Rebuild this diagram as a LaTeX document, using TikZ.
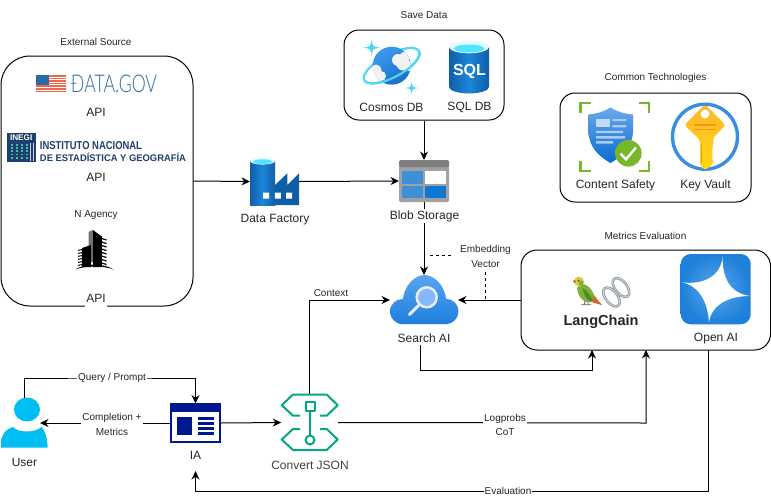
\documentclass[tikz,border=0pt]{standalone}
\usepackage{fontspec}
\setmainfont{Liberation Sans}
\newfontfamily\lightfont{Lato Light}
\usetikzlibrary{arrows.meta}
\definecolor{cyanT}{HTML}{50E6FF}
\definecolor{ringC}{HTML}{4FD6F4}
\definecolor{azA}{HTML}{0F5EA8}
\definecolor{azB}{HTML}{1B86D9}
\definecolor{navyIA}{HTML}{00188F}
\definecolor{greenS}{HTML}{76B82A}
\definecolor{hpe}{HTML}{01A982}
\definecolor{inegi}{HTML}{1F3F6E}
\definecolor{teal2}{HTML}{3FC0A8}
\definecolor{flagR}{HTML}{F0674F}
\definecolor{flagB}{HTML}{2A6AA5}
\definecolor{govT}{HTML}{2E6CA0}
\definecolor{sphA}{HTML}{3A9BEE}
\definecolor{sphB}{HTML}{1B6ECC}
\definecolor{shA}{HTML}{6AA8F0}
\definecolor{shB}{HTML}{0A6BCE}
\definecolor{shL}{HTML}{C3DBF7}
\definecolor{shM}{HTML}{A9CCF5}
\definecolor{ringK}{HTML}{3A8EDD}
\definecolor{keyA}{HTML}{FFB52B}
\definecolor{keyB}{HTML}{FFDB0F}
\definecolor{keyL}{HTML}{F7941D}
\definecolor{blobA}{HTML}{3D8FD8}
\definecolor{blobB}{HTML}{0F78D0}
\definecolor{blobG}{HTML}{A0A1A2}
\definecolor{blobH}{HTML}{7F7F7F}
\definecolor{clA}{HTML}{5BA3EE}
\definecolor{clB}{HTML}{1C80DE}
\definecolor{clR}{HTML}{E8EEF7}
\definecolor{clI}{HTML}{86B8FF}
\definecolor{oaA}{HTML}{5AA9EE}
\definecolor{oaB}{HTML}{1E80DA}
\definecolor{userC}{HTML}{00BEF2}
\definecolor{parG}{HTML}{7FB03A}
\definecolor{parD}{HTML}{4F8A2A}
\definecolor{parY}{HTML}{D8D040}
\definecolor{parR}{HTML}{E0602A}
\definecolor{chainC}{HTML}{8E98A6}
\newcommand{\fourstar}[3]{
  (#1,{#2-#3}) .. controls ({#1+0.12*#3},{#2-0.12*#3}) .. ({#1+#3},#2)
  .. controls ({#1+0.12*#3},{#2+0.12*#3}) .. (#1,{#2+#3})
  .. controls ({#1-0.12*#3},{#2+0.12*#3}) .. ({#1-#3},#2)
  .. controls ({#1-0.12*#3},{#2-0.12*#3}) .. (#1,{#2-#3}) -- cycle}
\tikzset{
  lbl/.style={font=\fontsize{12}{14}\selectfont,inner sep=1pt,align=center,text=black!85},
  small/.style={font=\fontsize{10}{14.5}\selectfont,inner sep=1pt,align=center,text=black!85},
  onwhite/.style={fill=white},
  group/.style={draw=black,line width=1pt,rounded corners=#1,fill=white,inner sep=0pt},
  icon/.style={inner sep=0pt,outer sep=0pt},
  conn/.style={line width=1pt,draw=black},
  arr/.style={conn,-{Stealth[length=8.5pt,width=8pt]}},
}
\begin{document}
\begin{tikzpicture}[x=1pt,y=-1pt]
\useasboundingbox (0,0) rectangle (771,499);
\fill[white] (0,0) rectangle (771,499);

% --- containers
\node[group=29pt,minimum width=192pt,minimum height=250pt] (ext) at (97,181) {};
\node[group=15pt,minimum width=160pt,minimum height=90pt] (save) at (424,75) {};
\node[group=15pt,minimum width=191pt,minimum height=109pt] (common) at (655.5,147.5) {};
\node[group=16pt,minimum width=249.5pt,minimum height=100pt] (metrics) at (645.75,300) {};

% --- anchors of icons
\node[icon,minimum width=49pt,minimum height=49pt] (df) at (274.5,181.5) {};
\node[icon,minimum width=50pt,minimum height=42pt] (blob) at (424,181) {};
\node[icon,minimum width=68pt,minimum height=50pt] (search) at (424,300) {};
\node[icon,minimum width=47pt,minimum height=50pt] (user) at (24.5,423) {};
\node[icon,minimum width=50pt,minimum height=39pt] (ia) at (195.5,423) {};
\node[icon,minimum width=57pt,minimum height=56pt] (conv) at (309.7,422.5) {};

\coordinate (userIn) at (40,423);
\coordinate (q) at (110,378);
\coordinate (dashA) at (430,255);
\coordinate (dashB) at (485.5,300);
\coordinate (s1) at (420.5,345);
\coordinate (s2) at (420.5,370);
\coordinate (s3) at (592,370);
\coordinate (s4) at (592,350);
\coordinate (l1) at (646,423);
\coordinate (l2) at (646,350);
\coordinate (o1) at (708,350);
\coordinate (o2) at (708,491);
\coordinate (o3) at (195.5,491);
\coordinate (o4) at (195.5,471);

% --- connectors
\draw[arr] (ext.east) -- (df.west);
\draw[arr] (df.east) -- (blob.west);
\draw[arr] (save.south) -- (blob.north);
\draw[arr] (blob.south) -- (search.north);
\draw[conn,dashed] (dashA) -| (dashB);
\draw[arr] (metrics.west) -- (search.east);
\draw[arr] (s1) -- (s2) -- (s3) -- (s4);
\draw[arr] (conv.east) -- (l1) -- (l2);
\draw[arr] (o1) -- (o2) -- (o3) -- (o4);
\draw[arr] (user.north) |- (q) -| (ia.north);
\draw[arr] (ia.west) -- (userIn);
\draw[arr] (ia.east) -- (conv.west);
\draw[arr] (conv.north) |- (search.west);

% --- titles
\node[small] (t1) at (96,42) {External Source};
\node[small] (t2) at (424,15.5) {Save Data};
\node[small] (t3) at (655.5,77.5) {Common Technologies};
\node[small] (t4) at (645.5,236) {Metrics Evaluation};

% --- connector labels
\node[small,onwhite] (lq) at (112,378) {Query / Prompt};
\node[small,onwhite] (lc) at (112,424.5) {Completion +\\Metrics};
\node[small] (lx) at (331,293.5) {Context};
\node[small,onwhite,inner xsep=9pt,inner ysep=4pt] (lv) at (485.5,256.5) {Embedding\\Vector};
\node[small,onwhite] (lp) at (505,425) {Logprobs\\CoT};
\node[small,onwhite] (le) at (508,491) {Evaluation};

% --- node labels
\node[lbl] (a1) at (96,112.5) {API};
\node[lbl] (a2) at (96,177.5) {API};
\node[lbl,onwhite,minimum height=17pt] (a3) at (96,298) {API};
\node[small] (na) at (96,215.5) {N Agency};
\node[lbl] at (391.5,107) {Cosmos DB};
\node[lbl] at (469.5,107) {SQL DB};
\node[lbl] at (615.5,185) {Content Safety};
\node[lbl] at (705.5,185) {Key Vault};
\node[lbl] at (275,220) {Data Factory};
\node[lbl,onwhite] at (424.5,216) {Blob Storage};
\node[lbl] at (424,338.5) {Search AI};
\node[lbl] at (716,339) {Open AI};
\node[lbl] at (24.5,462) {User};
\node[lbl] at (195.5,455.5) {IA};
\node[lbl,text=black!75] at (310,465.5) {Convert JSON};
\node[font=\fontsize{14.5}{16}\selectfont\bfseries,inner sep=0pt,text=black!85] at (601,321.5) {LangChain};

% --- DATA.GOV logo
\foreach \yy in {75,77.6,80.2,82.8,85.4,88,90.6}
  \fill[flagR] (35.7,\yy) rectangle (66.3,\yy+1.6);
\fill[flagB] (35.7,75) rectangle (49,85);
\node[inner sep=0pt,text=govT] (dg) at (114,84) {\resizebox{86pt}{17.5pt}{\lightfont ÐATA.GOV}};

% --- INEGI logo
\fill[inegi] (7,133) rectangle (35.5,162);
\node[inner sep=0pt,text=white,font=\fontsize{8.2}{9}\selectfont\bfseries] at (21.2,137.5) {INEGI};
\foreach \xx in {11,15.7,20.7,25.7} \foreach \yy in {144,147.2,150.4,153.6,156.8}
  \fill[teal2] (\xx,\yy) rectangle (\xx+2.2,\yy+1.7);
\foreach \xx in {30,33} \fill[white!75!inegi] (\xx,143) rectangle (\xx+.7,161);
\node[inner sep=0pt,text=inegi] at (91,146) {\resizebox{102pt}{8pt}{\bfseries INSTITUTO NACIONAL}};
\node[inner sep=0pt,text=inegi] at (113,157.5) {\resizebox{146pt}{8.5pt}{\bfseries DE ESTADÍSTICA Y GEOGRAFÍA}};

% --- building
\fill[black!55] (88.5,232) -- (93,230) -- (93,262) -- (88.5,262) -- cycle;
\fill[black] (93,230) -- (101,236) -- (101,267) -- (93,267) -- cycle;
\foreach \yy in {238,241.5,245,248.5,252,255.5,259,262.5}
  \draw[black,line width=1.2pt] (100,\yy) -- (106.5,\yy+2);
\fill[black] (100,236) rectangle (102,267);
\fill[black] (82,248) -- (91,245) -- (91,267) -- (82,267) -- cycle;
\foreach \yy in {249.5,252.5,255.5,258.5,261.5,264.5}
  \draw[black,line width=1pt] (78,\yy+.8) -- (83,\yy);
\fill[black] (75.5,269.5) .. controls (85,263) and (104,263) .. (113.5,269.5) .. controls (104,265.5) and (85,265.5) .. (75.5,269.5) -- cycle;

% --- Cosmos DB
\begin{scope}[shift={(391.7,65.7)},rotate=28]
  \draw[ringC,line width=2.2pt] (0,0) circle[x radius=31,y radius=11.5];
\end{scope}
\shade[top color=sphA,bottom color=sphB,shading angle=30] (391.7,65.7) circle[radius=19];
\begin{scope}
  \clip (391.7,65.7) circle[radius=19];
  \fill[black!5] (398,60) circle[radius=6] (405,57) circle[radius=5.5] (403,64) circle[radius=6.5] (409,66) circle[radius=5];
  \fill[black!5] (376,70) circle[radius=5.5] (381,76) circle[radius=5] (375,77) circle[radius=5];
\end{scope}
\begin{scope}[shift={(391.7,65.7)},rotate=28]
  \draw[ringC,line width=2.2pt] (31,0) arc[start angle=0,end angle=180,x radius=31,y radius=11.5];
\end{scope}
\fill[ringC] \fourstar{371.7}{47.7}{8.5};
\fill[ringC] \fourstar{411.7}{88}{6.5};

% --- SQL DB
\shade[left color=azA,right color=azA,middle color=azB] (449,47) -- (449,87) .. controls (449,91) and (460,93.5) .. (469,93.5) .. controls (478,93.5) and (489,91) .. (489,87) -- (489,47) -- cycle;
\fill[white!85!cyanT] (469,47) circle[x radius=20,y radius=6.3];
\fill[cyanT] (469,48.5) circle[x radius=15,y radius=4];
\node[inner sep=0pt,text=white,font=\fontsize{16}{18}\selectfont\bfseries] (sqlt) at (469.5,71.5) {SQL};

% --- Content Safety
\draw[greenS,line width=2.4pt] (580.5,113) -- (580.5,103) -- (591,103);
\draw[greenS,line width=2.4pt] (638.5,103) -- (649,103) -- (649,113);
\draw[greenS,line width=2.4pt] (580.5,160.5) -- (580.5,171) -- (591,171);
\draw[greenS,line width=2.4pt] (638.5,171) -- (649,171) -- (649,160.5);
\shade[top color=shA,bottom color=shB]
 (610.5,107.5) .. controls (603,112) and (596,114) .. (588.5,114.5) -- (588.5,132) .. controls (589,148) and (600,157) .. (610.5,163) .. controls (621,157) and (632,148) .. (633,132) -- (633,114.5) .. controls (625,114) and (618,112) .. (610.5,107.5) -- cycle;
\fill[shL] (596,119) rectangle (610,127.3);
\fill[shM] (612.3,119) rectangle (626,121.2) (612.3,125) rectangle (626,127.3) (596,130.8) rectangle (623,133) (596,136) rectangle (625,138.5) (596,141) rectangle (613,143.5);
\fill[greenS] (628.3,153.3) circle[radius=13.3];
\draw[white,line width=2.4pt] (620.5,153.5) -- (626,159.3) -- (636,147.5);

% --- Key Vault
\draw[ringK,line width=3.4pt] (705,136.7) circle[radius=32.5];
\shade[top color=keyA,bottom color=keyB,rounded corners=3pt]
 (705,104.3) -- (725.7,125) -- (713.3,137.5) -- (713.3,146) -- (711,148) -- (713.3,151) -- (711,153.5) -- (713.3,156.5) -- (711,159) -- (713.3,162) -- (713.3,163.5) -- (705,170.5) -- (700,165) -- (700,140) -- (684.3,125) -- cycle;
\fill[white] (705,114) circle[radius=4.5];
\draw[keyL,line width=1.5pt] (694.3,125) -- (715.7,125) (694.3,129.5) -- (715.7,129.5);
\draw[keyL,line width=1.3pt] (701.8,145) -- (701.8,163);

% --- Data Factory
\shade[left color=azA,right color=azA,middle color=azB] (250,161) -- (250,205) -- (275,205) -- (275,161) -- cycle;
\fill[azA] (275,185) -- (287.3,173.3) -- (287.3,185) -- (299,173.3) -- (299,205) -- (275,205) -- cycle;
\fill[white!85!cyanT] (262.5,161) circle[x radius=12.5,y radius=3.6];
\fill[cyanT] (262.5,161.7) circle[x radius=9.5,y radius=2.4];
\fill[white] (263,192.6) rectangle (269,198.6) (274.8,192.6) rectangle (280.8,198.6) (286,192.6) rectangle (292,198.6);

% --- Blob Storage
\fill[blobG,rounded corners=1.5pt] (399,160) rectangle (449,202);
\fill[blobH,rounded corners=1.5pt] (399,160) rectangle (449,167);
\fill[blobA] (402.3,171) rectangle (423.3,184);
\fill[white] (425,171) rectangle (445.7,184);
\fill[blobA] (402.3,185.7) rectangle (423.3,198.3);
\fill[blobB] (425,185.7) rectangle (445.7,198.3);

% --- Search AI
\shade[top color=clA,bottom color=clB]
 (403,324.2) .. controls (395,324.2) and (390,318) .. (390,311.5) .. controls (390,304) and (396,299) .. (403,298.8)
 .. controls (404,287) and (414,275) .. (424.5,275) .. controls (435,275) and (445,287) .. (446,298.8)
 .. controls (453,299) and (458.4,304) .. (458.4,311.5) .. controls (458.4,318) and (453,324.2) .. (446,324.2) -- cycle;
\draw[clR,line width=3pt,line cap=round] (418.5,305.5) -- (409.5,314.5);
\fill[clI] (426.7,297.3) circle[radius=10];
\draw[clR,line width=2.5pt] (426.7,297.3) circle[radius=10];

% --- LangChain
\fill[parG] (580,284) .. controls (587,283) and (592,289) .. (594,295) -- (602,305) -- (592,302) .. controls (585,304) and (578,298) .. (577,288) -- cycle;
\fill[parD] (583,288) .. controls (587,291) and (591,296) .. (593,301) .. controls (588,302) and (584,297) .. (583,288) -- cycle;
\fill[parR] (593,296) -- (602,305) -- (593,302.5) -- cycle;
\fill[parY] (579,281.5) circle[radius=5];
\fill[parG] (581,283) circle[radius=2.5];
\fill[parR] (574.5,281.5) circle[radius=1.7];
\fill[black!80] (578.5,280.5) circle[radius=.9];
\draw[black!60,line width=.8pt] (585,301) -- (584,305) (588,302) -- (588,305) (581,304.7) -- (591,304.7);
\draw[chainC,line width=2.6pt,rotate around={-52:(621,287.5)}] (621,287.5) circle[x radius=11,y radius=6];
\draw[white!60!chainC,line width=.9pt,rotate around={-52:(621,287.5)}] (621,287.5) circle[x radius=11,y radius=6];
\draw[chainC,line width=2.6pt,rotate around={-52:(611.5,297)}] (611.5,297) circle[x radius=11,y radius=6];
\draw[white!60!chainC,line width=.9pt,rotate around={-52:(611.5,297)}] (611.5,297) circle[x radius=11,y radius=6];

% --- Open AI
\shade[inner color=oaA,outer color=oaB,rounded corners=10pt] (680.7,254) rectangle (750.7,324.3);
\fill[white] (722.7,256) .. controls (722,275) and (728,293) .. (750,296)
 .. controls (728,296) and (711,305) .. (709,322.7)
 .. controls (708,303) and (700,286) .. (681.7,282.3)
 .. controls (703,285) and (721,277) .. (722.7,256) -- cycle;

% --- User
\fill[userC] (27,409.5) circle[x radius=13,y radius=12];
\fill[userC] (1,447.7) -- (1,440) .. controls (3,433) and (6,429) .. (13,427) .. controls (18,433) and (35,433) .. (41.7,427) .. controls (45,431) and (47,437) .. (47.7,447.7) -- cycle;

% --- IA
\draw[navyIA,line width=1.6pt,fill=white] (171,404) rectangle (220,442);
\fill[navyIA] (171,404) rectangle (220,411.7);
\fill[navyIA] (176.7,417.3) rectangle (192.3,435);
\foreach \yy in {418.5,423.5,428.5,433.5}
  \fill[navyIA] (197.7,\yy-1.1) rectangle (214,\yy+1.1);

% --- Convert JSON
\begin{scope}[draw=hpe,line width=2pt,line join=round]
\draw (300,415.7) -- (293,415.7) -- (281.7,405.2) -- (293,394.5) -- (326.7,394.5) -- (337.7,405.2) -- (326.7,415.7) -- (320,415.7);
\draw (300,429) -- (293,429) -- (281.7,439.5) -- (293,450) -- (326.7,450) -- (337.7,439.5) -- (326.7,429) -- (320,429);
\draw (305.5,401.5) rectangle (314.5,410.5);
\draw (310,410.5) -- (310,435.5);
\draw (310,440) circle[radius=4.5];
\end{scope}
\end{tikzpicture}
\end{document}
